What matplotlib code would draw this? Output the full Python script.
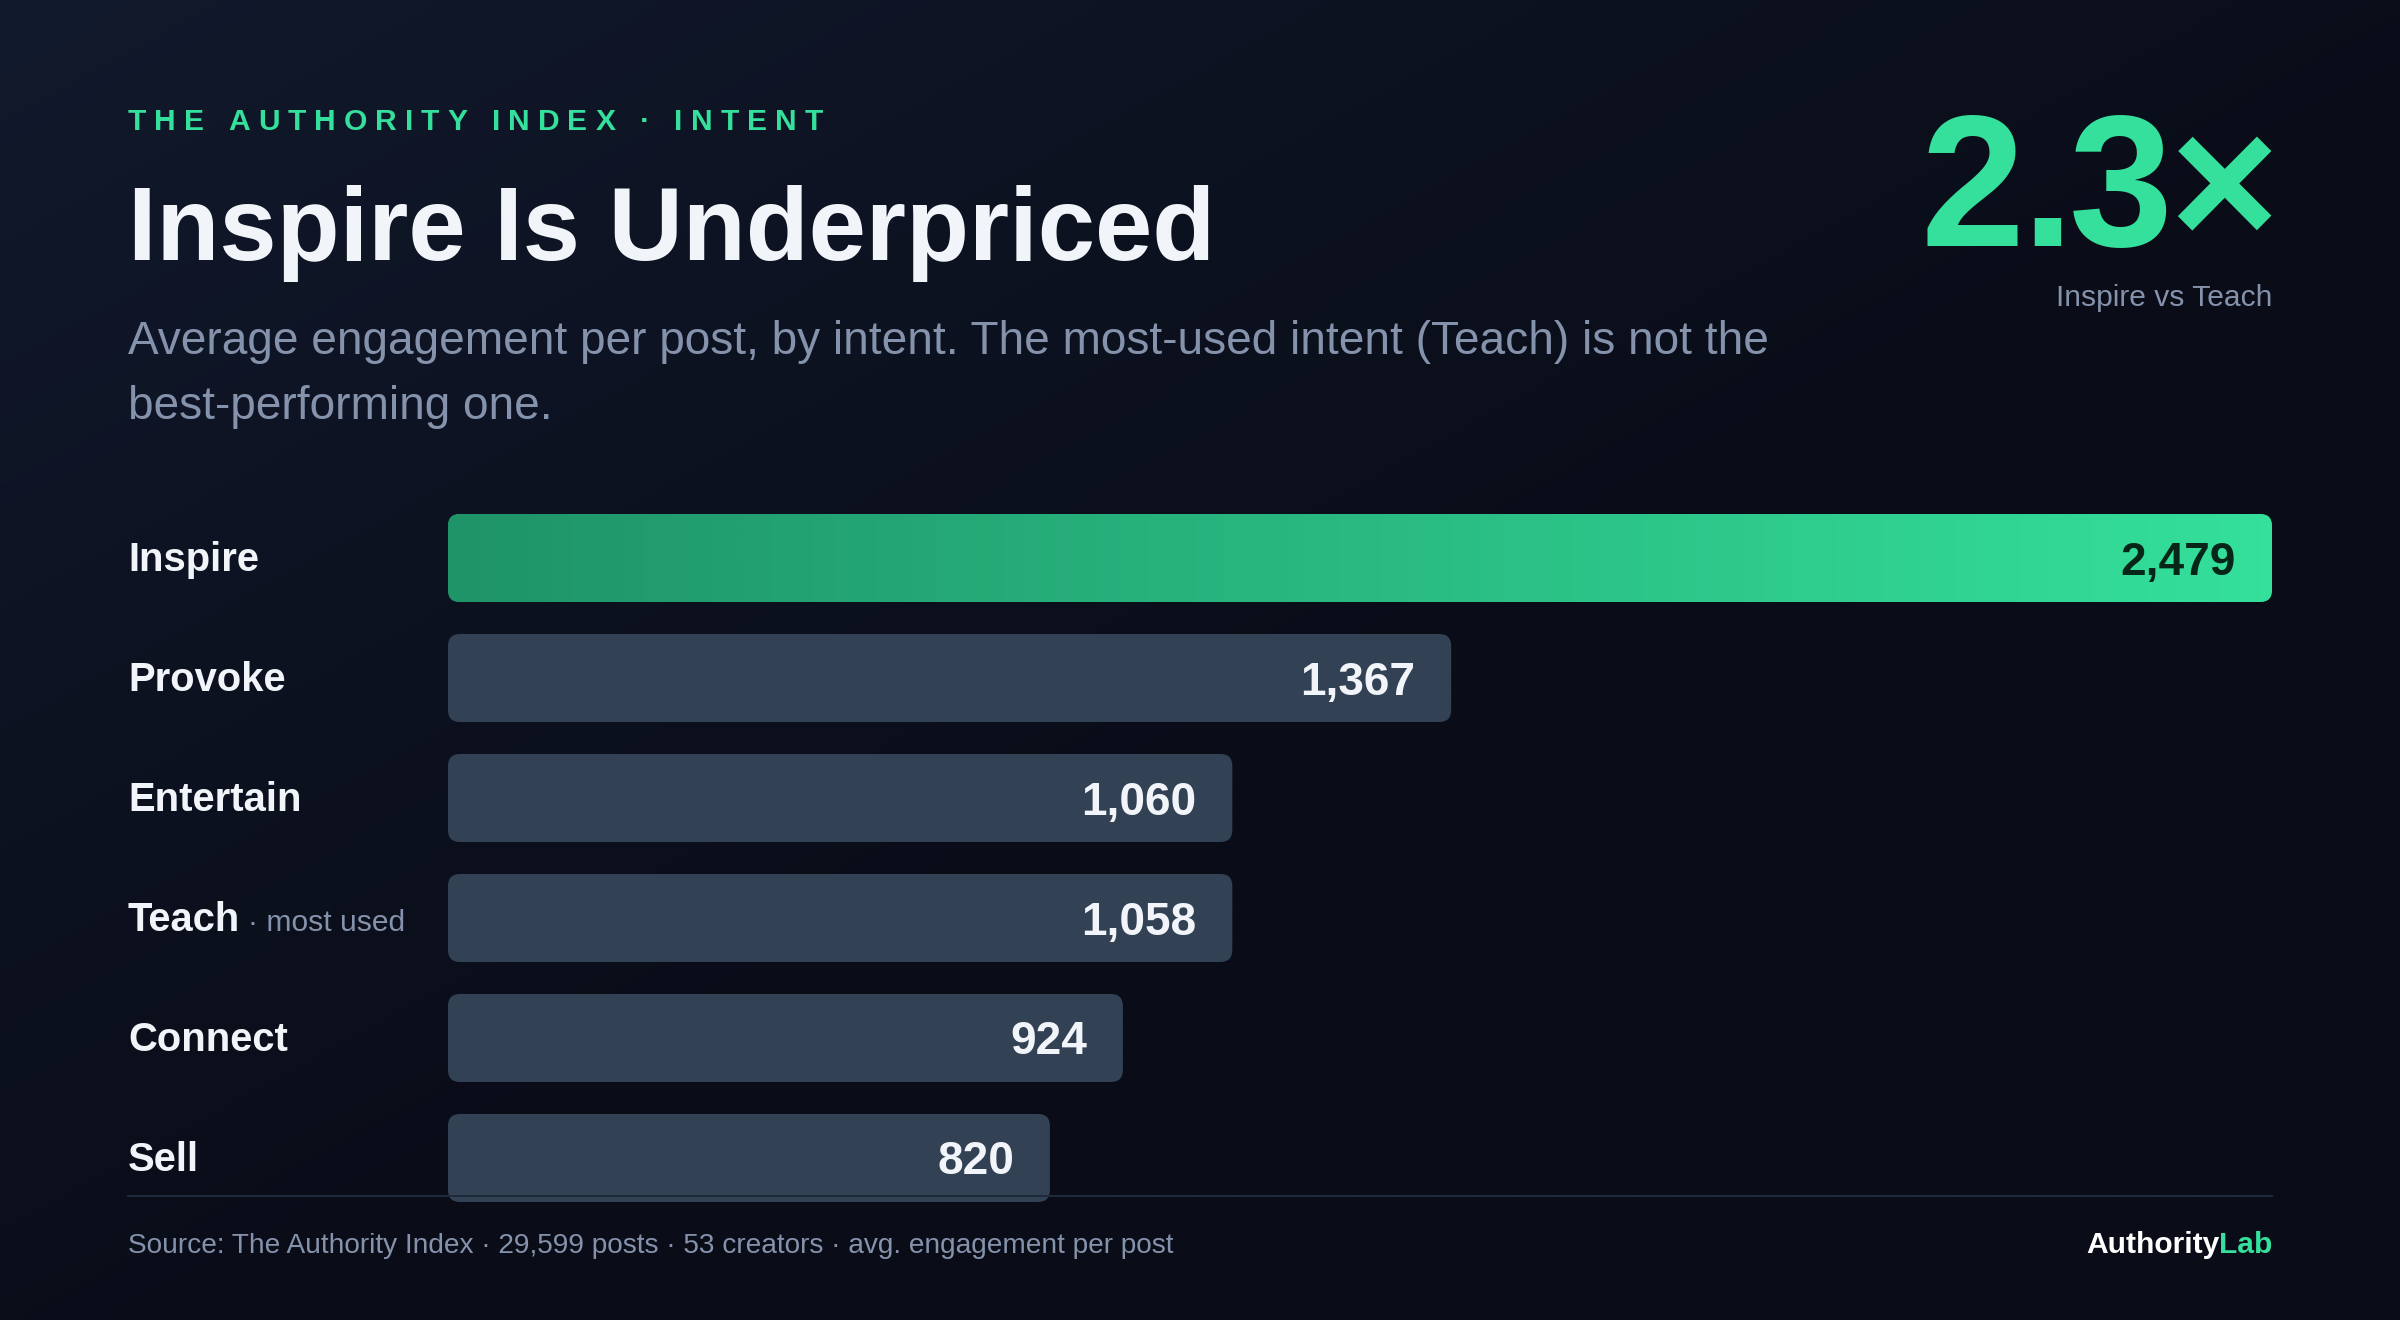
import numpy as np
import matplotlib
matplotlib.use("Agg")
import matplotlib.pyplot as plt
from matplotlib.patches import FancyBboxPatch, BoxStyle
from matplotlib.lines import Line2D
from matplotlib.colors import LinearSegmentedColormap
from matplotlib.transforms import IdentityTransform
from matplotlib.font_manager import FontProperties

# data
intents = ["Inspire", "Provoke", "Entertain", "Teach", "Connect", "Sell"]
engagement = [2479, 1367, 1060, 1058, 924, 820]
highlight = "Inspire"
most_used = "Teach"

# canvas (pixels)
W, H, DPI = 2400, 1320, 200
GREEN = "#34e09b"
GREEN_DARK = "#1f9468"
BAR = "#334155"
TEXT = "#f1f5f9"
MUTED = "#8592ab"
RULE = "#1e293b"
BG = "#0a0e1a"

plt.rcParams["font.family"] = ["Liberation Sans", "DejaVu Sans"]


def fx(x):
    return x / W


def fy(y):
    return 1 - y / H


def pt(px):
    return px * 72 / DPI


fig = plt.figure(figsize=(W / DPI, H / DPI), dpi=DPI)
fig.patch.set_facecolor(BG)
renderer = fig.canvas.get_renderer()

# background: soft diagonal gradient, lighter top-left
bg = fig.add_axes([0, 0, 1, 1], zorder=-10)
yy, xx = np.mgrid[0:1:200j, 0:1:360j]
t = np.clip((xx + yy) / 1.1, 0, 1)[..., None]
c0 = np.array([17, 25, 44]) / 255
c1 = np.array([10, 13, 24]) / 255
bg.imshow(c0 * (1 - t) + c1 * t, extent=(0, 1, 0, 1), aspect="auto",
          interpolation="bicubic", origin="upper")
bg.axis("off")


# letter-spaced text, drawn one glyph at a time
def tracked_text(x, y, s, size_px, tracking_px, ha="left", **kw):
    prop = FontProperties(family=plt.rcParams["font.family"], size=pt(size_px),
                          weight=kw.get("weight", "normal"))
    base = renderer.get_text_width_height_descent("HH", prop, ismath=False)[0]
    advs = [renderer.get_text_width_height_descent("H" + ch + "H", prop, ismath=False)[0] - base
            for ch in s]
    if ha == "right":
        x = x - (sum(advs) + tracking_px * (len(s) - 1))
    pen = x
    for ch, adv in zip(s, advs):
        if ch != " ":
            fig.text(fx(pen), fy(y), ch, fontsize=pt(size_px), ha="left", va="baseline", **kw)
        pen += adv + tracking_px


# header
tracked_text(128, 130, "THE AUTHORITY INDEX · INTENT", 30, 8, color=GREEN, weight="bold")
fig.text(fx(128), fy(260), "Inspire Is Underpriced", fontsize=pt(103), weight="bold",
         color=TEXT, ha="left", va="baseline")
fig.text(fx(128), fy(354), "Average engagement per post, by intent. The most-used intent (Teach) is not the",
         fontsize=pt(46), color=MUTED, ha="left", va="baseline")
fig.text(fx(128), fy(419), "best-performing one.", fontsize=pt(46), color=MUTED,
         ha="left", va="baseline")

ratio = engagement[intents.index(highlight)] / engagement[intents.index(most_used)]
tracked_text(2278, 246, f"{ratio:.1f}×", 187, -4, ha="right", color=GREEN, weight="bold")
fig.text(fx(2272), fy(306), f"{highlight} vs {most_used}", fontsize=pt(30), color=MUTED,
         ha="right", va="baseline")

# bar area
AX_L, AX_R = 448, 2272
ROW = 120
top = 558 - ROW / 2
n = len(intents)
ax = fig.add_axes([fx(AX_L), fy(top + ROW * n), (AX_R - AX_L) / W, ROW * n / H])
ax.set_facecolor("none")
xmax = max(engagement)
# the source sizes bars as whole-percent widths of the max
widths = [round(v / xmax * 100) / 100 * xmax for v in engagement]

px_per_x = (AX_R - AX_L) / xmax
rx = 12 / px_per_x
ry = 12 / ROW
bar_h = 88 / ROW
cmap = LinearSegmentedColormap.from_list("insp", [GREEN_DARK, GREEN])

labels = {}
for i, (name, v, w) in enumerate(zip(intents, engagement, widths)):
    hot = name == highlight
    p = FancyBboxPatch((0, i - bar_h / 2), w, bar_h,
                       boxstyle=BoxStyle("Round", pad=0, rounding_size=rx),
                       mutation_aspect=ry / rx, fc=GREEN_DARK if hot else BAR,
                       ec="none", zorder=2)
    ax.add_patch(p)
    if hot:
        im = ax.imshow(np.linspace(0, 1, 256).reshape(1, -1), cmap=cmap,
                       extent=(0, w, i + bar_h / 2, i - bar_h / 2), aspect="auto",
                       interpolation="bilinear", zorder=3)
        im.set_clip_path(p)
    labels[name] = ax.annotate(name, xy=(0, i), xytext=(128 - AX_L, -13),
                               textcoords="offset pixels", ha="left", va="baseline",
                               fontsize=pt(40), weight="bold", color=TEXT,
                               annotation_clip=False)
    ax.annotate(f"{v:,}", xy=(w, i), xytext=(-36, -16.5), textcoords="offset pixels",
                ha="right", va="baseline", fontsize=pt(46), weight="bold",
                color="#06261a" if hot else TEXT, zorder=4)

ax.set_xlim(0, xmax)
ax.set_ylim(n - 0.5, -0.5)
ax.axis("off")

# "· most used" tag after Teach
bb = labels[most_used].get_window_extent(renderer)
yb = ax.transData.transform((0, intents.index(most_used)))[1] - 13
fig.text(bb.x1 + 8, yb, "· most used", transform=IdentityTransform(), fontsize=pt(30),
         color=MUTED, ha="left", va="baseline")

# footer
fig.add_artist(Line2D([fx(128), fx(2272)], [fy(1196), fy(1196)], color=RULE, lw=pt(2), zorder=5))
fig.text(fx(128), fy(1253),
         "Source: The Authority Index · 29,599 posts · 53 creators · avg. engagement per post",
         fontsize=pt(28), color=MUTED, ha="left", va="baseline")
lab = fig.text(fx(2272), fy(1253), "Lab", fontsize=pt(30), weight="bold", color=GREEN,
               ha="right", va="baseline")
lb = lab.get_window_extent(renderer)
fig.text(lb.x0 + 1, H - 1253, "Authority", transform=IdentityTransform(), fontsize=pt(30),
         weight="bold", color="#ffffff", ha="right", va="baseline")

fig.savefig("out.png", dpi=DPI, facecolor=BG)
